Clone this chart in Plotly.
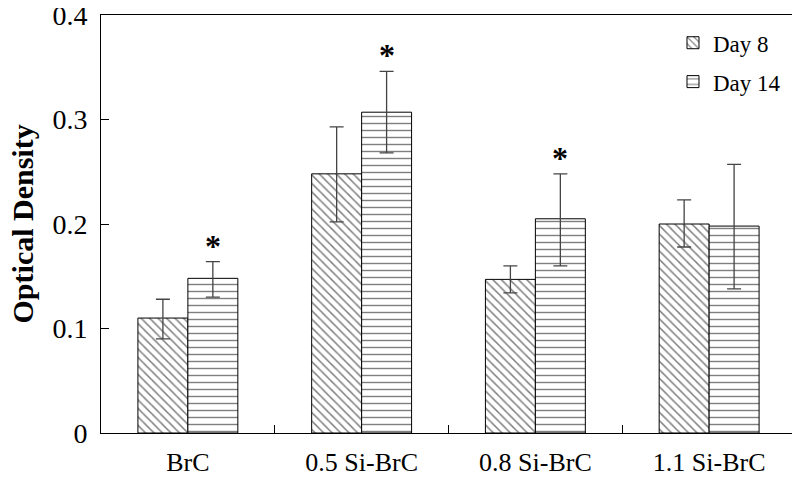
import plotly.graph_objects as go

groups = ["BrC", "0.5 Si-BrC", "0.8 Si-BrC", "1.1 Si-BrC"]
day8 = [0.110, 0.248, 0.147, 0.200]
day8_up = [0.018, 0.045, 0.013, 0.023]
day8_down = [0.020, 0.046, 0.013, 0.022]
day14 = [0.148, 0.307, 0.205, 0.198]
day14_up = [0.016, 0.039, 0.043, 0.059]
day14_down = [0.018, 0.039, 0.045, 0.060]
significant = [True, True, True, False]
y_ticks = [0, 0.1, 0.2, 0.3, 0.4]
y_labels = ["0", "0.1", "0.2", "0.3", "0.4"]

font = "Liberation Serif, Times New Roman, serif"

fig = go.Figure()
fig.add_trace(go.Bar(
    x=groups, y=day8, name="Day 8", legendgroup="d8",
    marker=dict(color="white", line=dict(color="black", width=1),
                pattern=dict(shape="\\", fgcolor="black", size=6, solidity=0.25)),
    error_y=dict(type="data", array=day8_up, arrayminus=day8_down,
                 color="#444", thickness=1.3, width=7),
))
fig.add_trace(go.Bar(
    x=groups, y=day14, name="Day 14", legendgroup="d14",
    marker=dict(color="white", line=dict(color="black", width=1),
                pattern=dict(shape="-", fgcolor="black", size=7, solidity=0.2)),
    error_y=dict(type="data", array=day14_up, arrayminus=day14_down,
                 color="#444", thickness=1.3, width=7),
))

# significance marks above the Day 14 bars
for g, v, up, s in zip(groups, day14, day14_up, significant):
    if s:
        fig.add_annotation(x=g, y=v + up, text="<b>*</b>", showarrow=False,
                           xshift=25, yshift=16, font=dict(size=32, family=font, color="black"))

# y axis title as a rotated annotation so it sits clear of the tick labels
fig.add_annotation(xref="paper", yref="paper", x=-0.113, y=0.5, xanchor="center",
                   yanchor="middle", textangle=-90, showarrow=False,
                   text="<b>Optical Density</b>", font=dict(size=30, family=font, color="black"))

# page body has an 8px margin, so the figure is a bit smaller than the window
fig.update_layout(
    width=792, height=474,
    margin=dict(l=93, r=4, t=7, b=49),
    plot_bgcolor="white", paper_bgcolor="white",
    barmode="group", bargap=0.425, bargroupgap=0,
    font=dict(family=font, color="black", size=22),
    showlegend=True,
    legend=dict(x=0.823, y=0.985, xanchor="left", yanchor="top",
                font=dict(size=23), tracegroupgap=6, itemwidth=30,
                bgcolor="rgba(0,0,0,0)"),
)
fig.update_xaxes(showline=True, linecolor="black", linewidth=1, mirror=True,
                 ticks="inside", ticklen=8, tickson="boundaries", tickcolor="black",
                 showgrid=False, tickfont=dict(size=26), ticklabelstandoff=6,
                 automargin=False)
# a white dot after each label pushes the numbers a little further from the axis
fig.update_yaxes(range=[0, 0.4], tickvals=y_ticks,
                 ticktext=[t + "<span style='color:white'>.</span>" for t in y_labels],
                 showline=True, linecolor="black", linewidth=1, mirror=True,
                 ticks="inside", ticklen=8, tickcolor="black", showgrid=False,
                 zeroline=False, tickfont=dict(size=28),
                 ticklabeloverflow="allow", automargin=False)

fig.write_html("out.html")
